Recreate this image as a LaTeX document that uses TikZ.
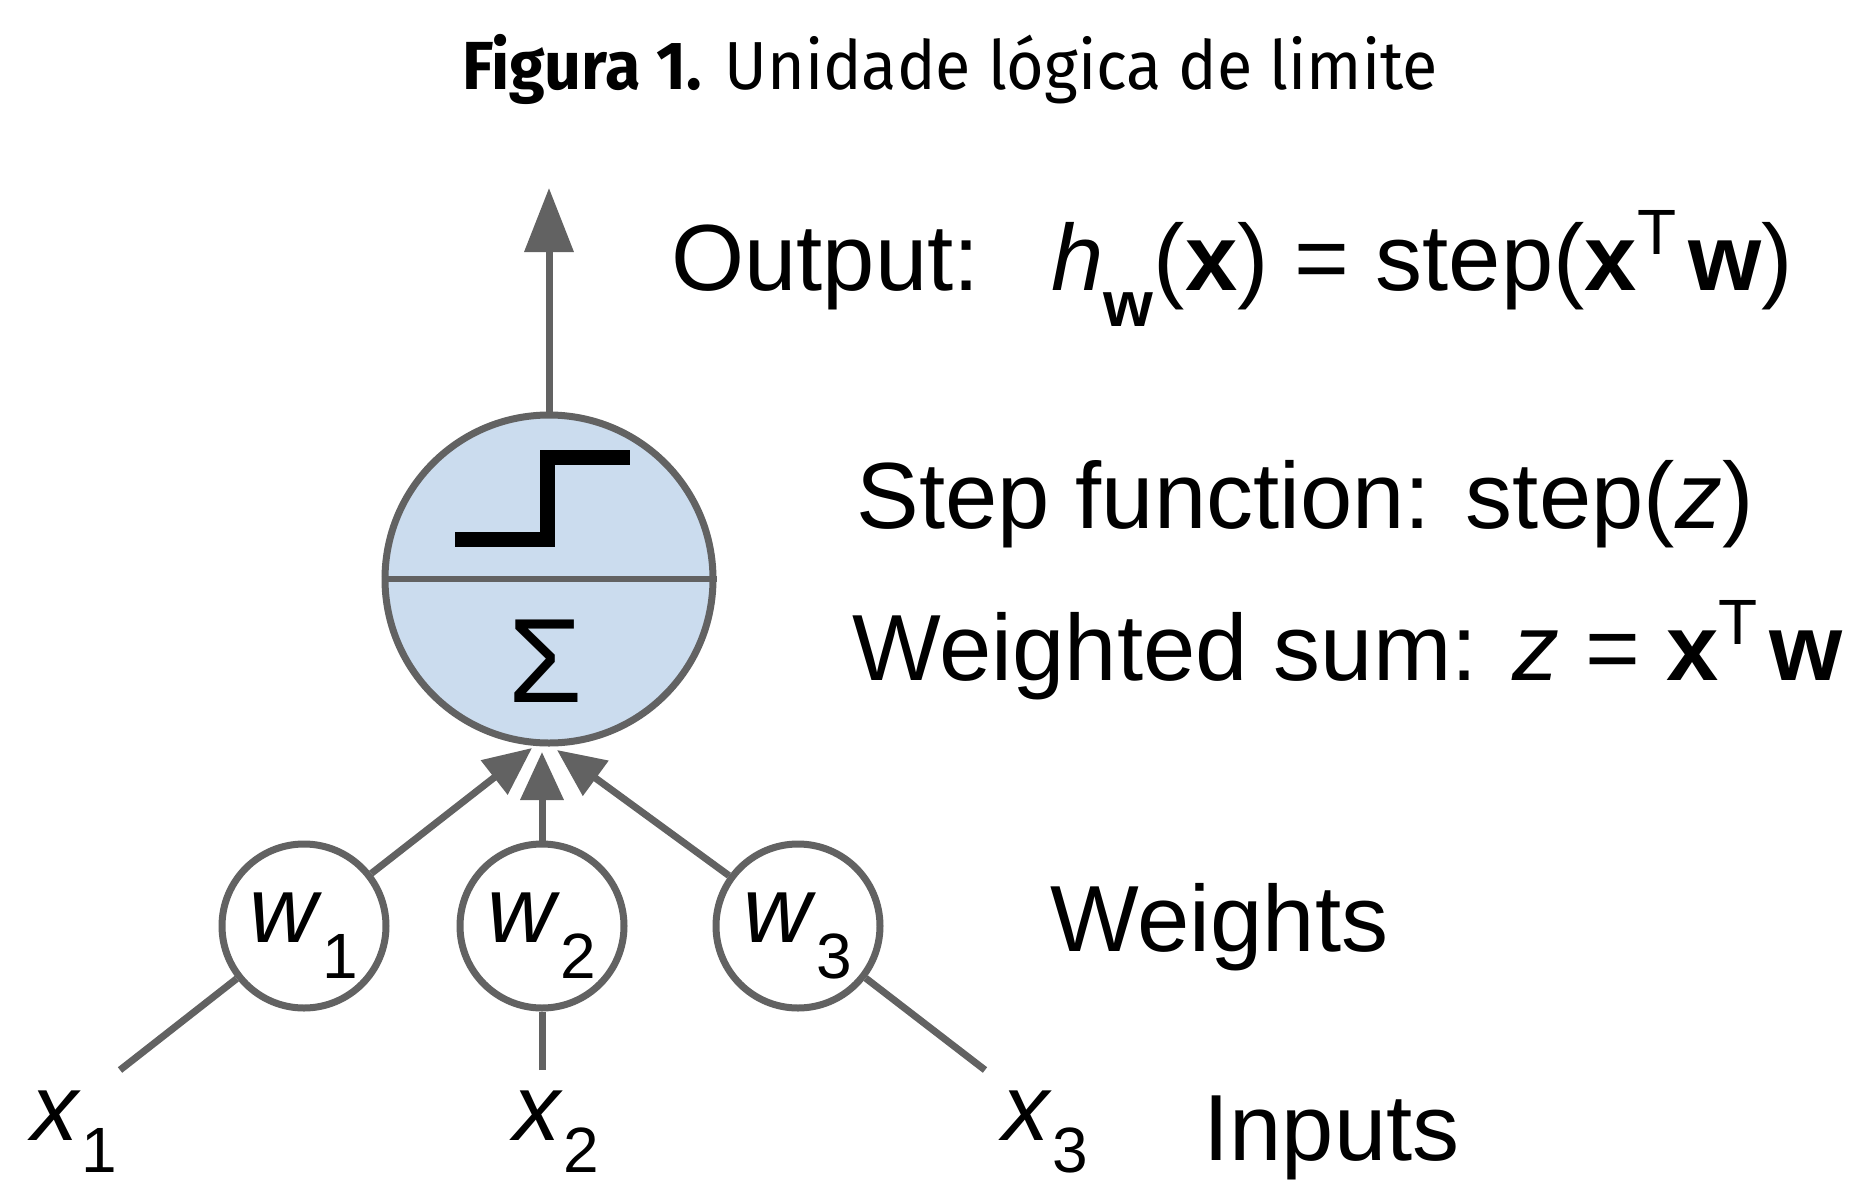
\documentclass[tikz,border=0pt]{standalone}
\usepackage{fontspec}
\setmainfont{Liberation Sans}
\newfontfamily\titlefont{Fira Sans}
\usetikzlibrary{arrows.meta}
\definecolor{lgray}{RGB}{98,98,98}
\definecolor{lblue}{RGB}{203,220,238}
\newcommand\mysub[1]{\raisebox{-18pt}{\fontsize{32}{32}\selectfont #1}}
\newcommand\myxsub[1]{\raisebox{-16pt}{\fontsize{32}{32}\selectfont #1}}
\newcommand\mysup[1]{\raisebox{18pt}{\fontsize{32}{32}\selectfont #1}}
\begin{document}
\begin{tikzpicture}[x=0.5pt,y=-0.5pt,
  conn/.style={draw=lgray,line width=3.5pt},
  arr/.style={conn,-{Triangle[length=24pt,width=21pt]}},
  arrbig/.style={conn,-{Triangle[length=32pt,width=24pt]}},
  weight/.style={circle,draw=lgray,line width=3.5pt,minimum size=82pt,inner sep=0pt,fill=white,
    text height=24pt,text depth=8pt,font=\fontsize{47}{56}\selectfont},
  lbl/.style={anchor=base west,inner sep=0pt,font=\fontsize{47}{56}\selectfont},
]
\useasboundingbox (0,0) rectangle (1865,1184);
\fill[white] (0,0) rectangle (1865,1184);
% title
\node[anchor=base,inner sep=0pt,font=\titlefont\fontsize{34}{40}\selectfont] (title) at (950,89)
  {\scalebox{0.95}[1]{\textbf{Figura 1.} Unidade lógica de limite}};
% summation unit
\node[circle,draw=lgray,fill=lblue,line width=3.5pt,minimum size=164pt,inner sep=0pt] (sum) at (549,579) {};
\draw[conn,line width=3pt] (sum.west) -- (sum.east);
\draw[line width=7.5pt,line join=miter] (455,539) -- (547,539) -- (547,457) -- (630,457);
\node[inner sep=0pt,font=\fontsize{60}{60}\selectfont] (sigma) at (546,661) {Σ};
% output arrow
\coordinate (outtip) at (549,188);
\draw[arrbig] (sum) -- (outtip);
% weights
\node[weight] (w1) at (304,926) {\textit{w}\mysub{1}};
\node[weight] (w2) at (542,926) {\textit{w}\mysub{2}};
\node[weight] (w3) at (798,926) {\textit{w}\mysub{3}};
\coordinate (t1) at (532,748);
\coordinate (t2) at (542,752);
\coordinate (t3) at (557,750);
\draw[arr] (w1) -- (t1);
\draw[arr] (w2) -- (t2);
\draw[arr] (w3) -- (t3);
% inputs
\coordinate (i1) at (120,1070);
\coordinate (i2) at (542,1070);
\coordinate (i3) at (985,1070);
\draw[conn] (i1) -- (w1);
\draw[conn] (i2) -- (w2);
\draw[conn] (i3) -- (w3);
\node[lbl] (x1) at (31,1140) {\textit{x}\myxsub{1}};
\node[lbl] (x2) at (513,1140) {\textit{x}\myxsub{2}};
\node[lbl] (x3) at (1002,1140) {\textit{x}\myxsub{3}};
% labels
\node[lbl] (outlbl) at (671,290) {Output:\hspace{36pt}\textit{h}\mysub{\textbf{w}}(\textbf{x}) = step(\textbf{x}\mysup{T}\hspace{6pt}\textbf{w})};
\node[lbl] (steplbl) at (856,528) {Step function: step(\textit{z})};
\node[lbl] (sumlbl) at (852,680) {Weighted sum: \textit{z} = \textbf{x}\mysup{T}\hspace{6pt}\textbf{w}};
\node[lbl] (wlbl) at (1050,951) {Weights};
\node[lbl] (inlbl) at (1203,1160) {Inputs};
\end{tikzpicture}
\end{document}
